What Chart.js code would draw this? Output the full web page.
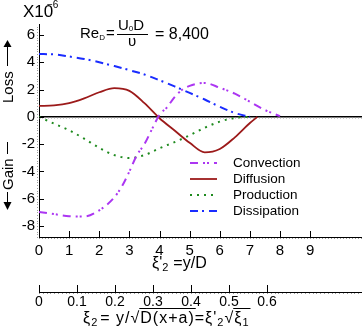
<!DOCTYPE html>
<html>
<head>
<meta charset="utf-8">
<script src="https://cdn.jsdelivr.net/npm/chart.js@4.4.0/dist/chart.umd.min.js"></script>
<style>
  html, body { margin: 0; padding: 0; background: #fff; }
  #wrap { width: 362px; height: 334px; }
</style>
</head>
<body>
<div id="wrap"><canvas id="budget" width="362" height="334"></canvas></div>
<script>
// Turbulent kinetic energy budget across the wake (values x 1e-6)
const convX = [0, 0.5, 1, 1.5, 2, 2.5, 2.75, 3, 3.25, 3.5, 3.75, 4, 4.25, 4.5, 4.75, 5, 5.5, 6, 6.5, 7, 7.5, 8];
const convY = [-6.96, -7.12, -7.28, -7.3, -6.85, -5.9, -5.1, -4.0, -2.8, -2.0, -0.9, 0.15, 0.7, 1.45, 1.98, 2.27, 2.48, 2.13, 1.7, 1.1, 0.5, 0.05];

const diffX = [0, 0.5, 1, 1.5, 2, 2.5, 3, 3.5, 4, 4.5, 5, 5.5, 6, 6.5, 7, 7.25];
const diffY = [0.8, 0.84, 1.0, 1.35, 1.8, 2.1, 1.9, 1.0, -0.1, -1.0, -1.9, -2.6, -2.35, -1.5, -0.45, 0];

const prodX = [0, 0.5, 1, 1.5, 2, 2.5, 3, 3.5, 4, 4.5, 5, 5.5, 6, 6.5, 7];
const prodY = [0, -0.5, -0.98, -1.6, -2.27, -2.8, -3.02, -2.8, -2.3, -1.85, -1.35, -0.8, -0.35, -0.08, 0];

const dissX = [0, 0.5, 1, 1.5, 2, 2.5, 3, 3.5, 4, 4.5, 5, 5.5, 6, 6.5, 7];
const dissY = [4.6, 4.57, 4.42, 4.24, 4.0, 3.72, 3.42, 3.1, 2.68, 2.23, 1.75, 1.27, 0.74, 0.28, 0];

const yTicks = [-8, -6, -4, -2, 0, 2, 4, 6];
const xTicks = [0, 1, 2, 3, 4, 5, 6, 7, 8, 9];
const x2Ticks = [0, 0.1, 0.2, 0.3, 0.4, 0.5, 0.6];

const FONT = '"Liberation Sans", Arial, sans-serif';

function pts(xs, ys) {
    return xs.map((x, i) => ({ x: x, y: ys[i] }));
}

function series(label, xs, ys, color, dash, width) {
    return {
        label: label,
        data: pts(xs, ys),
        borderColor: color,
        borderDash: dash,
        borderWidth: width,
        pointRadius: 0,
        fill: false,
        cubicInterpolationMode: 'monotone',
        xAxisID: 'x',
        yAxisID: 'y'
    };
}

// draw a run of text pieces (subscripts, radicals) left to right
function textRun(ctx, x, y, parts, base) {
    base = base || 15;
    parts.forEach(p => {
        const size = p.size || base;
        ctx.font = size + 'px ' + FONT;
        ctx.fillText(p.t, x, y + (p.dy || 0));
        const w = ctx.measureText(p.t).width;
        if (p.over) {
            ctx.beginPath();
            ctx.moveTo(x - 1, y - 14.5);
            ctx.lineTo(x + w + 1, y - 14.5);
            ctx.lineWidth = 1;
            ctx.stroke();
        }
        x += w + (p.gap || 0);
    });
    return x;
}

const decor = {
    id: 'decor',
    beforeDatasetsDraw(chart) {
        const { ctx, chartArea: a, scales } = chart;
        const y0 = Math.round(scales.y.getPixelForValue(0));
        ctx.save();
        ctx.fillStyle = '#000';
        ctx.fillRect(a.left, y0 - 1, a.right - a.left, 1.5);
        ctx.fillStyle = '#9a9a9a';
        for (let v = 0; v <= scales.x.max; v += 0.1) {
            ctx.fillRect(Math.round(scales.x.getPixelForValue(v)), y0 + 0.5, 1, 1);
        }
        ctx.restore();
    },
    afterDraw(chart) {
        const { ctx, chartArea: a, scales } = chart;
        const sx = scales.x, sy = scales.y, sx2 = scales.x2;
        ctx.save();

        // minor stipple along the axes
        ctx.fillStyle = '#9a9a9a';
        for (let v = 0; v <= sx.max; v += 0.1) {
            ctx.fillRect(Math.round(sx.getPixelForValue(v)), a.bottom + 1, 1, 1);
        }
        for (let v = 0; v <= sx2.max; v += 0.01) {
            ctx.fillRect(Math.round(sx2.getPixelForValue(v)), sx2.top + 1, 1, 1);
        }
        for (let v = sy.min; v <= sy.max; v += 0.2) {
            ctx.fillRect(a.left - 2, Math.round(sy.getPixelForValue(v)), 1, 1);
        }

        // major ticks, pointing inward
        ctx.strokeStyle = '#000';
        ctx.lineWidth = 1;
        ctx.beginPath();
        xTicks.forEach(v => {
            const px = Math.round(sx.getPixelForValue(v)) + 0.5;
            ctx.moveTo(px, a.bottom);
            ctx.lineTo(px, a.bottom - 6);
        });
        x2Ticks.forEach(v => {
            const px = Math.round(sx2.getPixelForValue(v)) + 0.5;
            ctx.moveTo(px, sx2.top);
            ctx.lineTo(px, sx2.top - 7);
        });
        yTicks.forEach(v => {
            const py = Math.round(sy.getPixelForValue(v)) + 0.5;
            ctx.moveTo(a.left, py);
            ctx.lineTo(a.left + 5, py);
        });
        ctx.stroke();

        ctx.fillStyle = '#000';
        ctx.strokeStyle = '#000';
        ctx.textBaseline = 'alphabetic';
        ctx.textAlign = 'left';

        // axis titles
        textRun(ctx, 152, 268, [
            { t: 'ξ' }, { t: '\'' }, { t: '2', size: 11, dy: 3, gap: 5 }, { t: '=y/D' }
        ], 16);
        ctx.letterSpacing = '1px';
        textRun(ctx, 83, 323, [
            { t: 'ξ' }, { t: '2', size: 11, dy: 3, gap: 2 }, { t: '= y/' },
            { t: '√' }, { t: 'D(x+a)', over: true }, { t: '=ξ\'' },
            { t: '2', size: 11, dy: 3 }, { t: '√' }, { t: 'ξ', over: true },
            { t: '1', size: 11, dy: 3, over: true }
        ], 16);
        ctx.letterSpacing = '0px';

        // scale factor and Reynolds number
        textRun(ctx, 23, 17, [{ t: 'X10', size: 17 }]);
        textRun(ctx, 47, 8, [{ t: '−6', size: 10 }]);
        textRun(ctx, 80, 38, [{ t: 'Re' }, { t: 'D', size: 8, dy: 2, gap: 1 }, { t: '=' }]);
        textRun(ctx, 118, 30, [{ t: 'U' }, { t: '0', size: 8, dy: 1 }, { t: 'D' }]);
        ctx.fillRect(117, 34, 31, 1);
        textRun(ctx, 128, 46, [{ t: 'υ' }]);
        textRun(ctx, 155, 39, [{ t: '= 8,400', size: 16 }]);

        // rotated Loss / Gain labels with arrows
        ctx.font = '15px ' + FONT;
        ctx.save();
        ctx.translate(13, 103);
        ctx.rotate(-Math.PI / 2);
        ctx.fillText('Loss', 0, 0);
        ctx.fillRect(37, -6, 19, 1);
        ctx.beginPath();
        ctx.moveTo(56, -9.5);
        ctx.lineTo(63, -5.5);
        ctx.lineTo(56, -1.5);
        ctx.closePath();
        ctx.fill();
        ctx.restore();

        ctx.save();
        ctx.translate(13, 190);
        ctx.rotate(-Math.PI / 2);
        ctx.fillText('Gain', 0, 0);
        ctx.fillRect(36, -6, 12, 1);
        ctx.fillRect(-12, -6, 10, 1);
        ctx.beginPath();
        ctx.moveTo(-12, -9.5);
        ctx.lineTo(-20, -5.5);
        ctx.lineTo(-12, -1.5);
        ctx.closePath();
        ctx.fill();
        ctx.restore();

        // legend drawn from the dataset styles
        ctx.font = '13.5px ' + FONT;
        ctx.textBaseline = 'middle';
        chart.data.datasets.forEach((ds, i) => {
            const ly = 163 + i * 16;
            ctx.save();
            ctx.strokeStyle = ds.borderColor;
            ctx.lineWidth = ds.borderWidth;
            ctx.setLineDash(ds.borderDash);
            ctx.beginPath();
            ctx.moveTo(190, ly);
            ctx.lineTo(217, ly);
            ctx.stroke();
            ctx.restore();
            ctx.fillStyle = '#000';
            ctx.fillText(ds.label, 233, ly);
        });
        ctx.restore();
    }
};

const axisFont = size => ({ family: FONT, size: size });

new Chart(document.getElementById('budget'), {
    type: 'line',
    data: {
        datasets: [
            series('Convection', convX, convY, '#ac36f2', [8, 5, 2, 2, 2, 5], 2),
            series('Diffusion', diffX, diffY, '#9c1a1a', [], 1.8),
            series('Production', prodX, prodY, '#1e8a1e', [2, 5], 2),
            series('Dissipation', dissX, dissY, '#1a2cff', [8, 4, 2, 5], 2)
        ]
    },
    options: {
        responsive: false,
        animation: false,
        devicePixelRatio: 1,
        layout: { padding: { top: 24, left: 0, right: 0, bottom: 0 } },
        plugins: {
            legend: { display: false },
            tooltip: { enabled: false }
        },
        scales: {
            x: {
                type: 'linear',
                position: 'bottom',
                weight: 0,
                min: 0,
                max: 10.72,
                afterBuildTicks: s => { s.ticks = xTicks.map(v => ({ value: v })); },
                afterFit: s => { s.height = 55; },
                grid: { display: false, drawTicks: false },
                border: { display: true, color: '#000', width: 1 },
                ticks: { color: '#000', font: axisFont(15), padding: 5, maxRotation: 0, autoSkip: false }
            },
            x2: {
                type: 'linear',
                position: 'bottom',
                weight: 1,
                min: 0,
                max: 0.85,
                afterBuildTicks: s => { s.ticks = x2Ticks.map(v => ({ value: v })); },
                afterFit: s => { s.height = 42; },
                grid: { display: false, drawTicks: false },
                border: { display: true, color: '#000', width: 1 },
                ticks: {
                    color: '#000', font: axisFont(14), padding: 2, maxRotation: 0, autoSkip: false,
                    callback: v => v === 0 ? '0' : v.toFixed(1)
                }
            },
            y: {
                type: 'linear',
                position: 'left',
                min: -8.8,
                max: 6.8,
                afterBuildTicks: s => { s.ticks = yTicks.map(v => ({ value: v })); },
                afterFit: s => { s.width = 39; },
                grid: { display: false, drawTicks: false },
                border: { display: true, color: '#000', width: 1 },
                ticks: { color: '#000', font: axisFont(15), padding: 4 }
            }
        }
    },
    plugins: [decor]
});
</script>
</body>
</html>
